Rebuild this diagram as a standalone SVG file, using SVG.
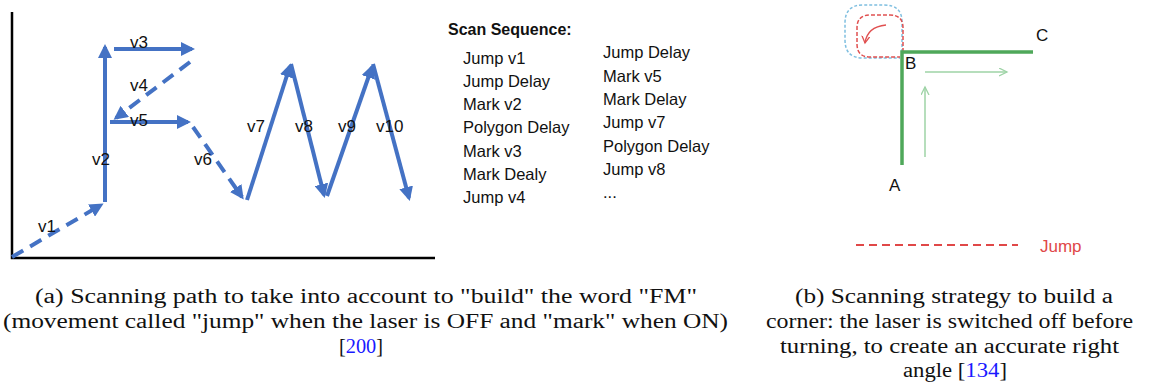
<svg xmlns="http://www.w3.org/2000/svg" width="1149" height="383" viewBox="0 0 1149 383">
<style>
.ax{stroke:#000;stroke-width:2.5;fill:none}
.bl{stroke:#4472C4;stroke-width:4;fill:none}
.bd{stroke-dasharray:13,8}
.lb{font-family:"Liberation Sans",Arial,sans-serif;font-size:17px;fill:#111}
.sq{font-family:"Liberation Sans",Arial,sans-serif;font-size:16.5px;fill:#111}
.sqh{font-family:"Liberation Sans",Arial,sans-serif;font-size:16px;font-weight:bold;fill:#111}
.gr{stroke:#4FA85A;stroke-width:3.5;fill:none}
.gt{stroke:#9ED3A6;stroke-width:1.5;fill:none}
.abc{font-family:"Liberation Sans",Arial,sans-serif;font-size:17px;fill:#111}
.cap{font-family:"Liberation Serif","Times New Roman",serif;font-size:20px;fill:#111}
.ref{fill:#1a1aff}
</style>
<defs>
<marker id="ab" markerUnits="userSpaceOnUse" markerWidth="16" markerHeight="14" refX="11" refY="7" orient="auto"><path d="M0,0 L14,7 L0,14 z" fill="#4472C4"/></marker>
<marker id="ag" markerUnits="userSpaceOnUse" markerWidth="10" markerHeight="10" refX="8" refY="4" orient="auto"><path d="M0,0 L8,4 L0,8" fill="none" stroke="#9ED3A6" stroke-width="1.3"/></marker>
<marker id="ar" markerUnits="userSpaceOnUse" markerWidth="10" markerHeight="10" refX="7" refY="4" orient="auto"><path d="M0,0 L7,4 L0,8" fill="none" stroke="#E05050" stroke-width="1.3"/></marker>
</defs>

<g id="axes">
<path class="ax" d="M12,12 L12,258 L435,258"/>
</g>

<g id="connectors">
<path class="bl bd" d="M12,257 L101,205" marker-end="url(#ab)"/>
<path class="bl" d="M105,202 L105,47" marker-end="url(#ab)"/>
<path class="bl" d="M114,49 L192,49" marker-end="url(#ab)"/>
<path class="bl bd" d="M190,62 L116,118" marker-end="url(#ab)"/>
<path class="bl" d="M110,122 L188,122" marker-end="url(#ab)"/>
<path class="bl bd" d="M193,127 L242,197" marker-end="url(#ab)"/>
<path class="bl" d="M247,200 L290,66" marker-end="url(#ab)"/>
<path class="bl" d="M291,64 L324,195" marker-end="url(#ab)"/>
<path class="bl" d="M327,196 L372,67" marker-end="url(#ab)"/>
<path class="bl" d="M373,64 L409,198" marker-end="url(#ab)"/>
</g>

<g id="labels-a">
<text class="lb" x="38" y="232">v1</text>
<text class="lb" x="92" y="165">v2</text>
<text class="lb" x="130" y="48">v3</text>
<text class="lb" x="130" y="91">v4</text>
<text class="lb" x="130" y="126">v5</text>
<text class="lb" x="194" y="165">v6</text>
<text class="lb" x="247" y="132">v7</text>
<text class="lb" x="295" y="132">v8</text>
<text class="lb" x="338" y="132">v9</text>
<text class="lb" x="376" y="132">v10</text>
</g>

<g id="scan-sequence">
<text class="sqh" x="448" y="35">Scan Sequence:</text>
<text class="sq" x="463" y="64">Jump v1</text>
<text class="sq" x="463" y="87">Jump Delay</text>
<text class="sq" x="463" y="110">Mark v2</text>
<text class="sq" x="463" y="133">Polygon Delay</text>
<text class="sq" x="463" y="157">Mark v3</text>
<text class="sq" x="463" y="180">Mark Dealy</text>
<text class="sq" x="463" y="203">Jump v4</text>
<text class="sq" x="603" y="58">Jump Delay</text>
<text class="sq" x="603" y="82">Mark v5</text>
<text class="sq" x="603" y="105">Mark Delay</text>
<text class="sq" x="603" y="128">Jump v7</text>
<text class="sq" x="603" y="152">Polygon Delay</text>
<text class="sq" x="603" y="175">Jump v8</text>
<text class="sq" x="603" y="198">...</text>
</g>

<g id="corner">
<path d="M902,52 L902,22 Q902,5 884,5 L863,5 Q845,5 845,23 L845,40 Q845,58 863,58 L900,58" fill="none" stroke="#7FBFE0" stroke-width="1.5" stroke-dasharray="3,2"/>
<path d="M903,52 L903,28 Q903,15 890,15 L870,15 Q857,15 857,28 L857,44 Q857,57 870,57 L900,57" fill="none" stroke="#E05050" stroke-width="1.5" stroke-dasharray="4,2"/>
<path d="M886,25 Q867,27 865,43" fill="none" stroke="#E05050" stroke-width="1.3" marker-end="url(#ar)"/>
<path class="gr" d="M902,165 L902,52 L1033,52"/>
<path class="gt" d="M925,72 L1007,72" marker-end="url(#ag)"/>
<path class="gt" d="M925,157 L925,87" marker-end="url(#ag)"/>
<text class="abc" x="1036" y="41">C</text>
<text class="abc" x="905" y="69">B</text>
<text class="abc" x="889" y="191">A</text>
</g>

<g id="legend">
<path d="M856,245 L1018,245" stroke="#E04848" stroke-width="2" stroke-dasharray="8,5"/>
<text x="1040" y="252" font-family="Liberation Sans,Arial,sans-serif" font-size="17" fill="#E04848">Jump</text>
</g>

<g id="caption-a">
<text class="cap" x="35" y="303" textLength="662" lengthAdjust="spacingAndGlyphs">(a) Scanning path to take into account to "build" the word "FM"</text>
<text class="cap" x="3" y="328" textLength="725" lengthAdjust="spacingAndGlyphs">(movement called "jump" when the laser is OFF and "mark" when ON)</text>
<text class="cap" x="339" y="353" textLength="44" lengthAdjust="spacingAndGlyphs">[<tspan class="ref">200</tspan>]</text>
</g>

<g id="caption-b">
<text class="cap" x="795" y="303" textLength="318" lengthAdjust="spacingAndGlyphs">(b) Scanning strategy to build a</text>
<text class="cap" x="766" y="328" textLength="367" lengthAdjust="spacingAndGlyphs">corner: the laser is switched off before</text>
<text class="cap" x="780" y="353" textLength="339" lengthAdjust="spacingAndGlyphs">turning, to create an accurate right</text>
<text class="cap" x="903" y="377" textLength="104" lengthAdjust="spacingAndGlyphs">angle [<tspan class="ref">134</tspan>]</text>
</g>
</svg>
